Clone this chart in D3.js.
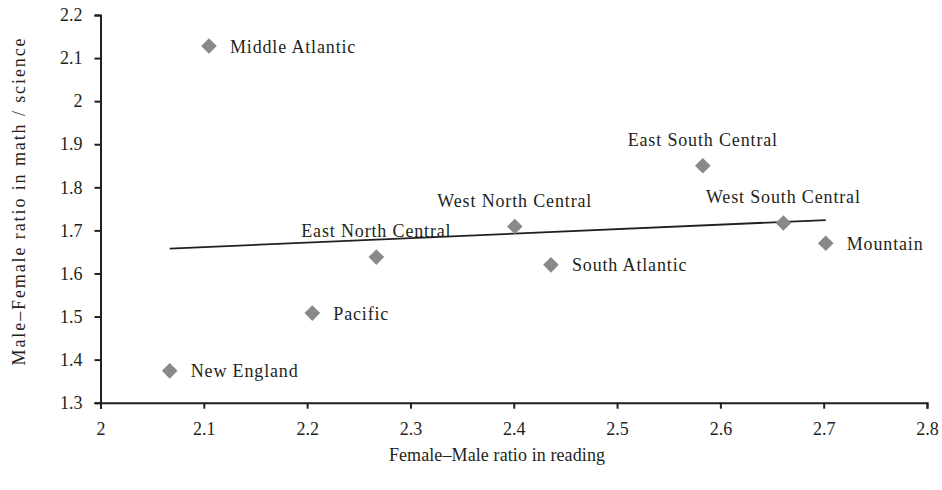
<!DOCTYPE html>
<html><head><meta charset="utf-8">
<script src="https://cdn.jsdelivr.net/npm/d3@7"></script>
<style>body{margin:0;background:#fff}svg{display:block}</style>
</head><body><svg id="c" width="942" height="490"></svg>
<script>
const regions = ["Middle Atlantic","East South Central","West North Central","East North Central","West South Central","Mountain","South Atlantic","Pacific","New England"];
const readingRatio = [2.105,2.583,2.401,2.267,2.661,2.702,2.436,2.205,2.067];
const mathRatio = [2.128,1.850,1.709,1.638,1.717,1.670,1.620,1.508,1.374];
const labelPos = ["right","above","above","above","above","right","right","right","right"];
const xTicks = [2,2.1,2.2,2.3,2.4,2.5,2.6,2.7,2.8];
const yTicks = [1.3,1.4,1.5,1.6,1.7,1.8,1.9,2,2.1,2.2];

const FONT = "'Liberation Serif','Times New Roman',Tinos,Times,'DejaVu Serif','Noto Serif',serif";
const INK = "#231f20";
const svg = d3.select("#c");
const x = d3.scaleLinear().domain([2,2.8]).range([100.5,927]);
const y = d3.scaleLinear().domain([1.3,2.2]).range([402.7,15]);

const xAxis = svg.append("g").attr("transform","translate(0,402.7)")
  .call(d3.axisBottom(x).tickValues(xTicks).tickFormat(d=>String(d)).tickSizeOuter(0).tickSize(6).tickPadding(13.5));
const yAxis = svg.append("g").attr("transform","translate(100.5,0)")
  .call(d3.axisLeft(y).tickValues(yTicks).tickFormat(d=>String(d)).tickSizeOuter(0).tickSize(6).tickPadding(12));
[xAxis,yAxis].forEach(g=>{
  g.attr("font-family",null).attr("font-size",null);
  g.selectAll(".domain").attr("stroke",INK).attr("stroke-width",2);
  g.selectAll(".tick line").attr("stroke",INK).attr("stroke-width",2);
  g.selectAll(".tick text").style("font-family",FONT).style("font-size","18px").attr("fill",INK);
});

// least-squares trend line through the points
const n = readingRatio.length;
const mx = d3.mean(readingRatio), my = d3.mean(mathRatio);
let sxy=0,sxx=0;
for(let i=0;i<n;i++){sxy+=(readingRatio[i]-mx)*(mathRatio[i]-my);sxx+=(readingRatio[i]-mx)**2;}
const b = sxy/sxx, a = my-b*mx;
const [x0,x1] = d3.extent(readingRatio);
svg.append("line").attr("x1",x(x0)).attr("y1",y(a+b*x0)).attr("x2",x(x1)).attr("y2",y(a+b*x1))
  .attr("stroke",INK).attr("stroke-width",1.8);

const data = regions.map((r,i)=>({r,x:readingRatio[i],y:mathRatio[i],pos:labelPos[i]}));
svg.selectAll("path.pt").data(data).join("path").attr("class","pt")
  .attr("d",d3.symbol(d3.symbolSquare,122))
  .attr("transform",d=>`translate(${x(d.x)},${y(d.y)}) rotate(45)`)
  .attr("fill","#89898b");

svg.selectAll("text.lbl").data(data).join("text").attr("class","lbl")
  .attr("x",d=>d.pos==="right"?x(d.x)+21:x(d.x))
  .attr("y",d=>d.pos==="right"?y(d.y)+6.5:y(d.y)-20)
  .attr("text-anchor",d=>d.pos==="right"?"start":"middle")
  .style("font-family",FONT).style("font-size","18px").style("letter-spacing","0.85px")
  .attr("fill",INK).text(d=>d.r);

svg.append("text").attr("x",497).attr("y",461).attr("text-anchor","middle")
  .style("font-family",FONT).style("font-size","18px").style("letter-spacing","0.1px").attr("fill",INK)
  .text("Female–Male ratio in reading");
svg.append("text").attr("transform","translate(24.5,201) rotate(-90)").attr("text-anchor","middle")
  .style("font-family",FONT).style("font-size","18px").style("letter-spacing","1.9px").attr("fill",INK)
  .text("Male–Female ratio in math / science");
</script></body></html>
